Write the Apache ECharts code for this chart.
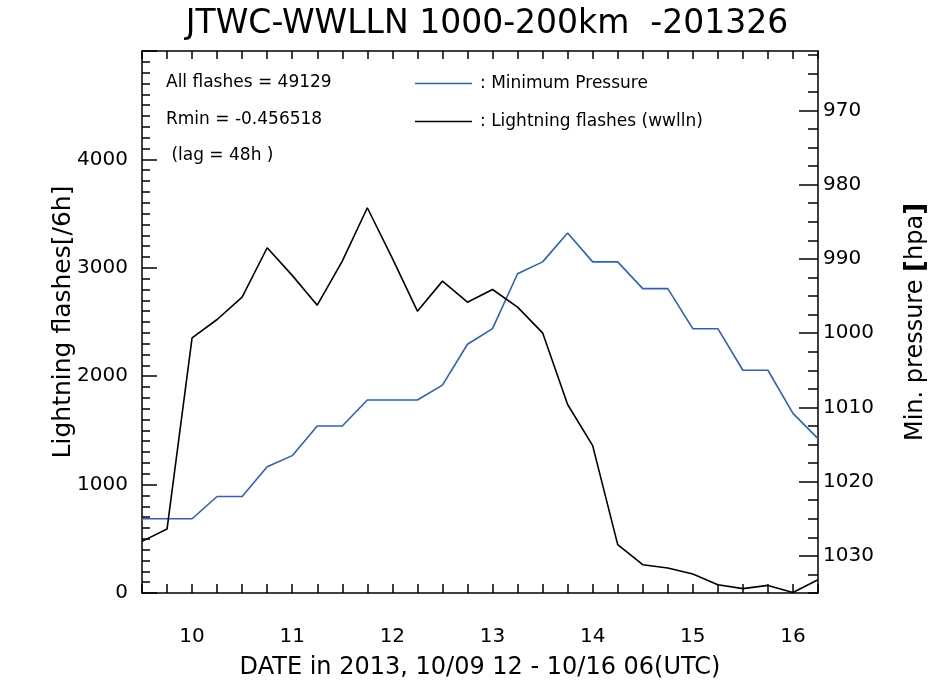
<!DOCTYPE html>
<html><head><meta charset="utf-8">
<script src="https://cdn.jsdelivr.net/npm/echarts@6/dist/echarts.min.js"></script>
<style>html,body{margin:0;padding:0;background:#fff}#c{width:936px;height:691px}</style>
</head><body><div id="c"></div>
<script>
// 6-hourly times (MM/DD HH, UTC, 2013)
const times = ['10/09 12','10/09 18','10/10 00','10/10 06','10/10 12','10/10 18',
  '10/11 00','10/11 06','10/11 12','10/11 18','10/12 00','10/12 06','10/12 12','10/12 18',
  '10/13 00','10/13 06','10/13 12','10/13 18','10/14 00','10/14 06','10/14 12','10/14 18',
  '10/15 00','10/15 06','10/15 12','10/15 18','10/16 00','10/16 06'];
// Lightning flashes per 6h (wwlln)
const flashes = [476, 590, 2354, 2523, 2729, 3185, 2930, 2655, 3062, 3554, 3087, 2600, 2877, 2683,
  2800, 2637, 2400, 1739, 1360, 446, 261, 230, 175, 76, 40, 70, 5, 123];
// Minimum pressure (hPa)
const pressure = [1025, 1025, 1025, 1022, 1022, 1018, 1016.5, 1012.5, 1012.5, 1009, 1009, 1009, 1007, 1001.5,
  999.4, 992, 990.4, 986.5, 990.4, 990.4, 994, 994, 999.4, 999.4, 1005, 1005, 1010.8, 1014.2];
// Tick labels
const flashTickLabels = [0, 1000, 2000, 3000, 4000];
const pressureTickLabels = [970, 980, 990, 1000, 1010, 1020, 1030];
const pressureMinorTicks = [962.5, 965, 967.5, 972.5, 975, 977.5, 982.5, 985, 987.5, 992.5, 995, 997.5,
  1002.5, 1005, 1007.5, 1012.5, 1015, 1017.5, 1022.5, 1025, 1027.5, 1032.5, 1035];
const dayLabels = ['10', '11', '12', '13', '14', '15', '16'];

const titleText = 'JTWC-WWLLN 1000-200km  -201326';
const infoLines = ['All flashes = 49129', 'Rmin = -0.456518', ' (lag = 48h )'];

function toHours(t) { // hours since 10/09 00Z
  const day = parseInt(t.slice(3, 5), 10), hr = parseInt(t.slice(6, 8), 10);
  return (day - 9) * 24 + hr;
}
const xs = times.map(toHours);
const FONT = 'DejaVu Sans';

const chart = echarts.init(document.getElementById('c'), null, { renderer: 'canvas' });
chart.setOption({
  backgroundColor: '#fff',
  animation: false,
  title: {
    text: titleText, left: 482, top: 3, textAlign: 'center',
    textStyle: { fontFamily: FONT, fontSize: 33, fontWeight: 'normal', color: '#000' }
  },
  grid: { left: 142, right: 118, top: 51, bottom: 98, outerBoundsMode: 'none', containLabel: false },
  legend: {
    orient: 'vertical', left: 410, top: 70, itemWidth: 57, itemHeight: 14, itemGap: 21,
    data: ['Minimum Pressure', 'Lightning flashes (wwlln)'],
    formatter: n => ': ' + n,
    textStyle: { fontFamily: FONT, fontSize: 17, color: '#000', padding: [0, 0, 0, 3] },
    icon: 'path://M0,0 L57,0 L57,1.5 L0,1.5 Z'
  },
  graphic: [
    { type: 'text', left: 166, top: 74, style: { text: infoLines[0], font: '17px "DejaVu Sans"', fill: '#000' } },
    { type: 'text', left: 166, top: 111, style: { text: infoLines[1], font: '17px "DejaVu Sans"', fill: '#000' } },
    { type: 'text', left: 166, top: 147, style: { text: infoLines[2], font: '17px "DejaVu Sans"', fill: '#000' } }
  ],
  xAxis: [{
    type: 'value', min: 12, max: 174, interval: 6, position: 'bottom',
    name: 'DATE in 2013, 10/09 12 - 10/16 06(UTC)', nameLocation: 'middle', nameGap: 63, nameMoveOverlap: false,
    nameTextStyle: { fontFamily: FONT, fontSize: 24, color: '#000' },
    axisLine: { lineStyle: { color: '#000', width: 1.5 } },
    axisTick: { inside: true, length: 9, lineStyle: { color: '#000', width: 1.5 } },
    axisLabel: {
      margin: 34, fontFamily: FONT, fontSize: 20, color: '#000',
      formatter: v => (v % 24 === 0 ? dayLabels[v / 24 - 1] || '' : '')
    },
    splitLine: { show: false }
  }, {
    type: 'value', min: 12, max: 174, interval: 6, position: 'top',
    axisLine: { show: true, lineStyle: { color: '#000', width: 1.5 } },
    axisTick: { inside: true, length: 8, lineStyle: { color: '#000', width: 1.5 } },
    axisLabel: { show: false }, splitLine: { show: false }
  }],
  yAxis: [{
    type: 'value', min: 0, max: 5000, interval: 1000, position: 'left',
    name: 'Lightning flashes[/6h]', nameLocation: 'middle', nameGap: 66, nameMoveOverlap: false,
    nameTextStyle: { fontFamily: FONT, fontSize: 25, color: '#000' },
    axisLine: { show: true, lineStyle: { color: '#000', width: 1.5 } },
    axisTick: { inside: true, length: 15, lineStyle: { color: '#000', width: 1.5 } },
    minorTick: { show: true, splitNumber: 10, length: 8, lineStyle: { color: '#000', width: 1.5 } },
    axisLabel: {
      margin: 14, fontFamily: FONT, fontSize: 20, color: '#000',
      formatter: v => (flashTickLabels.indexOf(v) >= 0 ? String(v) : '')
    },
    splitLine: { show: false }, minorSplitLine: { show: false }
  }, {
    type: 'value', min: 962, max: 1035, inverse: true, position: 'right',
    name: 'Min. pressure {b|[}hpa{b|]}', nameLocation: 'middle', nameGap: 85, nameMoveOverlap: false,
    nameTextStyle: { fontFamily: FONT, fontSize: 24, color: '#000',
      rich: { b: { fontFamily: FONT, fontSize: 26, fontWeight: 'bold', color: '#000' } } },
    axisLine: { show: true, lineStyle: { color: '#000', width: 1.5 } },
    axisTick: { inside: true, length: 19, customValues: pressureTickLabels, lineStyle: { color: '#000', width: 1.5 } },
    axisLabel: { margin: 5, fontFamily: FONT, fontSize: 20, color: '#000', customValues: pressureTickLabels,
      formatter: v => String(v) },
    splitLine: { show: false }
  }, {
    type: 'value', min: 962, max: 1035, inverse: true, position: 'right',
    axisLine: { show: false },
    axisTick: { show: true, inside: true, length: 10, customValues: pressureMinorTicks, lineStyle: { color: '#000', width: 1.5 } },
    axisLabel: { show: false }, splitLine: { show: false }
  }],
  series: [{
    name: 'Minimum Pressure', type: 'line', xAxisIndex: 0, yAxisIndex: 1,
    data: xs.map((x, i) => [x, pressure[i]]),
    showSymbol: false, symbol: 'none',
    lineStyle: { color: '#2f5fc4', width: 1.6 }, itemStyle: { color: '#2f5fc4' }
  }, {
    name: 'Lightning flashes (wwlln)', type: 'line', xAxisIndex: 0, yAxisIndex: 0,
    data: xs.map((x, i) => [x, flashes[i]]),
    showSymbol: false, symbol: 'none',
    lineStyle: { color: '#000', width: 1.6 }, itemStyle: { color: '#000' }
  }]
});
</script>
</body></html>
